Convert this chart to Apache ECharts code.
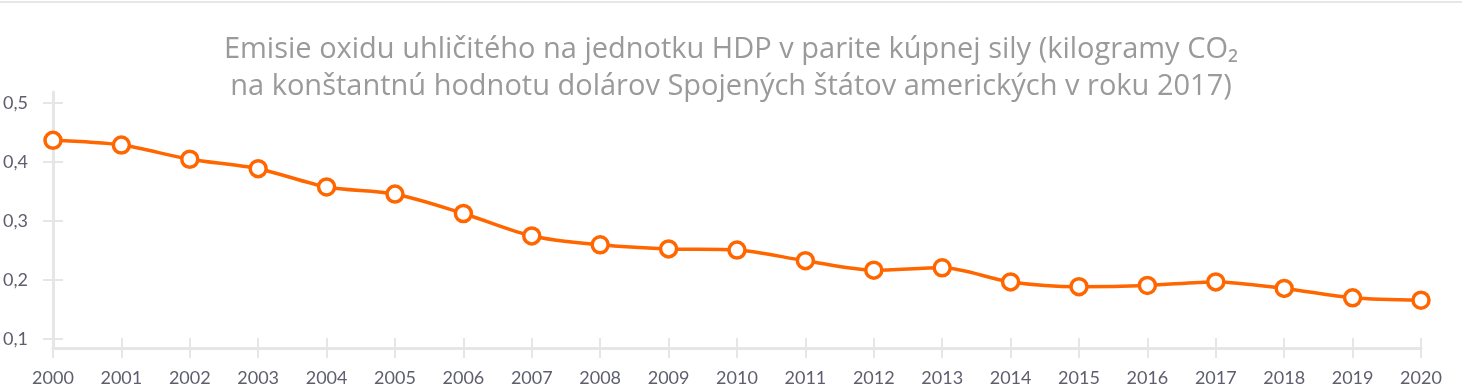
<!DOCTYPE html>
<html><head><meta charset="utf-8">
<script src="https://cdn.jsdelivr.net/npm/echarts@6/dist/echarts.min.js"></script>
<style>html,body{margin:0;padding:0;background:#fff}#c{width:1462px;height:390px}</style>
</head><body><div id="c"></div>
<script>
const years = ['2000','2001','2002','2003','2004','2005','2006','2007','2008','2009','2010','2011','2012','2013','2014','2015','2016','2017','2018','2019','2020'];
const emissions = [0.437,0.429,0.405,0.389,0.358,0.346,0.313,0.275,0.260,0.253,0.251,0.233,0.217,0.221,0.197,0.189,0.191,0.197,0.186,0.170,0.166];
const yTicks = [0.1,0.2,0.3,0.4,0.5];
const titleLines = ['Emisie oxidu uhličitého na jednotku HDP v parite kúpnej sily (kilogramy CO₂','na konštantnú hodnotu dolárov Spojených štátov amerických v roku 2017)'];

const FONT = 'Lato';
const axisColor = '#e6e6e6';
const labelColor = '#5e5e6e';
const chart = echarts.init(document.getElementById('c'));
chart.setOption({
  animation:false,
  textStyle:{fontFamily:FONT},
  title:{text:titleLines.join('\n'),left:'center',top:26,textStyle:{fontFamily:'Open Sans',fontSize:29,fontWeight:'normal',color:'#9a9a9a',lineHeight:37}},
  graphic:[{type:'line',shape:{x1:0,y1:2,x2:1462,y2:2},style:{stroke:axisColor,lineWidth:2}}],
  grid:{left:52,right:41,top:92,bottom:42},
  xAxis:[{
    type:'category',data:years,boundaryGap:false,
    axisLine:{lineStyle:{color:axisColor,width:3}},
    axisTick:{length:10,lineStyle:{color:axisColor,width:2},alignWithLabel:true},
    axisLabel:{color:labelColor,fontSize:18,margin:21,fontFamily:FONT},
    splitLine:{show:false}
  },{
    type:'category',data:years,boundaryGap:false,position:'bottom',
    axisLine:{show:false},
    axisTick:{inside:true,length:10,lineStyle:{color:axisColor,width:2}},
    axisLabel:{show:false},splitLine:{show:false}
  }],
  yAxis:[{
    type:'value',min:0.085,max:0.519,
    axisLine:{show:true,lineStyle:{color:axisColor,width:3}},
    axisTick:{show:true,length:10,customValues:yTicks,lineStyle:{color:axisColor,width:2}},
    axisLabel:{customValues:yTicks,color:labelColor,fontSize:18,margin:25,fontFamily:FONT,formatter:v=>v.toFixed(1).replace('.',',')},
    splitLine:{show:false}
  },{
    type:'value',min:0.085,max:0.519,position:'left',
    axisLine:{show:false},
    axisTick:{show:true,inside:true,length:10,customValues:yTicks,lineStyle:{color:axisColor,width:2}},
    axisLabel:{show:false},splitLine:{show:false}
  }],
  series:[{
    type:'line',data:emissions,smooth:0.3,
    symbol:'circle',symbolSize:16,
    lineStyle:{color:'#ff6600',width:3.5},
    itemStyle:{color:'#ffffff',borderColor:'#ff6600',borderWidth:3.5}
  }]
});
</script></body></html>
